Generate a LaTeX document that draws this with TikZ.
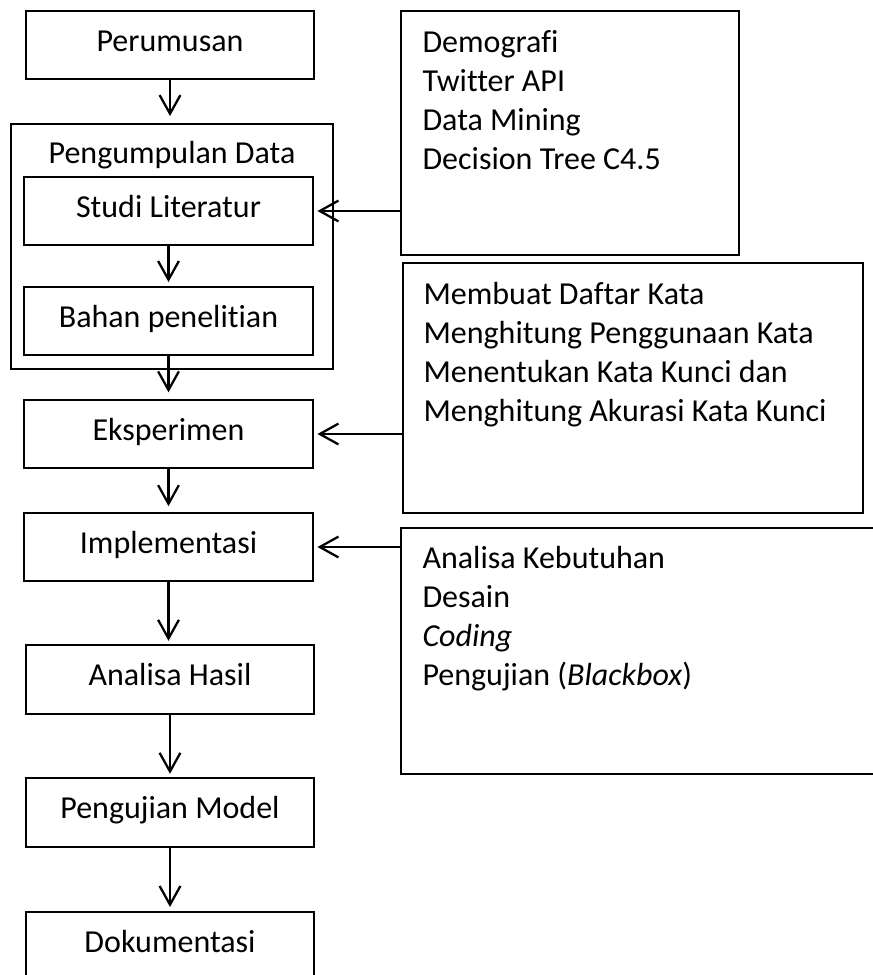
\documentclass[tikz,border=0pt]{standalone}
\usepackage{fontspec}
\setmainfont[Ligatures=NoCommon]{Carlito}
\usetikzlibrary{arrows.meta}
\begin{document}
\begin{tikzpicture}[x=0.375pt,y=-0.375pt,
  every node/.style={font=\fontsize{12}{14.65}\selectfont},
  stepbox/.style={draw=black,line width=0.75pt,rectangle,inner sep=0pt,text height=8pt,text depth=3.5pt,minimum height=25.5pt},
  framebox/.style={draw=black,line width=0.75pt,rectangle,inner sep=0pt},
  arr/.style={draw=black,line width=0.85pt,-{Straight Barb[length=7pt,width=7.8pt]}},
  listtext/.style={inner sep=0pt,anchor=base west}]
\useasboundingbox (0,0) rectangle (872,975);

% left column
\node[stepbox,minimum width=108pt] (per) at (170,45) {Perumusan};
\node[framebox,minimum width=120.75pt,minimum height=91.875pt] (outer) at (172,246.5) {};
\node[inner sep=0pt,anchor=base] (ttl) at (172,163) {Pengumpulan Data};
\node[stepbox,minimum width=108.375pt] (studi) at (168.5,211) {Studi Literatur};
\node[stepbox,minimum width=108.375pt] (bahan) at (168.5,321) {Bahan penelitian};
\node[stepbox,minimum width=108.375pt] (eks) at (168.5,434) {Eksperimen};
\node[stepbox,minimum width=108.375pt] (imp) at (168.5,547) {Implementasi};
\node[stepbox,minimum width=108pt,minimum height=25.875pt] (anal) at (170,679.5) {Analisa Hasil};
\node[stepbox,minimum width=108pt,minimum height=25.875pt] (peng) at (170,812.5) {Pengujian Model};
\node[stepbox,minimum width=108pt] (dok) at (170,946) {Dokumentasi};

% right boxes
\node[framebox,minimum width=126.75pt,minimum height=91.5pt] (r1) at (570,133) {};
\node[listtext] (r1t) at (422,52) {\parbox[t]{150pt}{Demografi\\Twitter API\\Data Mining\\Decision Tree C4.5}};
\node[framebox,minimum width=172.5pt,minimum height=93.75pt] (r2) at (633,388) {};
\node[listtext] (r2t) at (423,304) {\parbox[t]{165pt}{Membuat Daftar Kata\\Menghitung Penggunaan Kata\\Menentukan Kata Kunci dan\\Menghitung Akurasi Kata Kunci}};
\node[framebox,minimum width=179.6pt,minimum height=92.25pt] (r3) at (640.5,651) {};
\node[listtext] (r3t) at (422,568) {\parbox[t]{165pt}{Analisa Kebutuhan\\Desain\\\textit{Coding}\\Pengujian (\textit{Blackbox})}};

% vertical arrows
\draw[arr,shorten >=2.6pt] (per.south) -- (per.south |- outer.north);
\draw[arr,shorten >=1.5pt] (studi.south) -- (bahan.north);
\draw[arr,shorten >=2.5pt] (bahan.south) -- (eks.north);
\draw[arr,shorten >=2.2pt] (eks.south) -- (imp.north);
\draw[arr,shorten >=1.2pt] (imp.south) -- (imp.south |- anal.north);
\draw[arr,shorten >=1.2pt] (anal.south) -- (anal.south |- peng.north);
\draw[arr,shorten >=1.5pt] (peng.south) -- (dok.north);

% horizontal arrows
\draw[arr,shorten >=1.3pt] (r1.west |- studi.east) -- (studi.east);
\draw[arr,shorten >=1.3pt] (r2.west |- eks.east) -- (eks.east);
\draw[arr,shorten >=1.3pt] (r3.west |- imp.east) -- (imp.east);
\end{tikzpicture}
\end{document}
